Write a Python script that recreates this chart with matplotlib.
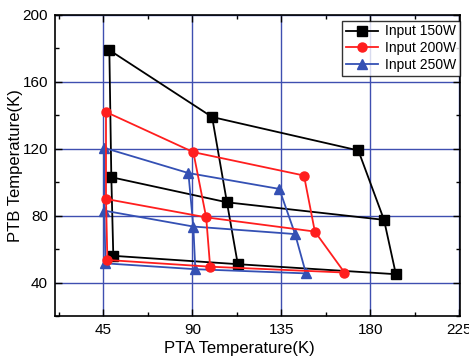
import numpy as np
import matplotlib.pyplot as plt
from matplotlib.lines import Line2D
from matplotlib.ticker import MultipleLocator

plt.rcParams['font.family'] = ['Liberation Sans', 'DejaVu Sans']

# 3x3 grids of operating points, rows = PTB setting, cols = PTA setting
x_150 = [[48, 100, 174], [49, 107.5, 187], [50, 113, 193]]
y_150 = [[179, 139, 119], [103, 88, 77.5], [56, 51, 45]]
x_200 = [[46.3, 90.5, 146.5], [46.3, 97, 152], [47, 99, 167]]
y_200 = [[142, 118, 104], [90, 79, 70.5], [53.5, 49.5, 46]]
x_250 = [[45.5, 88, 134], [45.5, 90.5, 142], [46, 91.5, 147.5]]
y_250 = [[120.5, 105.5, 96], [83, 73.5, 69], [51.5, 48, 45.5]]

labels = ['Input 150W', 'Input 200W', 'Input 250W']
colors = ['black', '#ff1e1e', '#3450b4']
markers = ['s', 'o', '^']

fig = plt.figure(figsize=(4.69, 3.62), dpi=100)
ax = fig.add_axes([0.1173, 0.127, 0.8637, 0.8316])

ax.grid(True, which='major', color='#3f4fb0', linewidth=1.0)
ax.set_axisbelow(True)

series = [(x_150, y_150), (x_250, y_250), (x_200, y_200)]
order = [0, 2, 1]
for (xs, ys), i in zip(series, order):
    xs = np.array(xs)
    ys = np.array(ys)
    for r in range(3):
        ax.plot(xs[r], ys[r], color=colors[i], lw=1.3, marker=markers[i],
                ms=6.5, zorder=3)
    for c in range(3):
        ax.plot(xs[:, c], ys[:, c], color=colors[i], lw=1.3, zorder=3)

ax.set_xlim(20.5, 225.5)
ax.set_ylim(20, 200)
ax.xaxis.set_minor_locator(MultipleLocator(22.5))
ax.yaxis.set_minor_locator(MultipleLocator(20))
ax.set_xticks([45, 90, 135, 180, 225])
ax.set_yticks([40, 80, 120, 160, 200])
ax.tick_params(which='both', direction='in', top=True, right=True, labelsize=11)
ax.tick_params(which='major', length=5, width=1, pad=5)
ax.tick_params(which='minor', length=3, width=1)
for s in ax.spines.values():
    s.set_linewidth(1.2)

ax.set_xlabel('PTA Temperature(K)', fontsize=12)
ax.set_ylabel('PTB Temperature(K)', fontsize=12)
ax.xaxis.set_label_coords(0.454, -0.083)
ax.yaxis.set_label_coords(-0.079, 0.5)

handles = [Line2D([], [], color=colors[i], marker=markers[i], ms=6.5, lw=1.3)
           for i in range(3)]
leg = ax.legend(handles, labels, loc='upper right', bbox_to_anchor=(1.0, 0.98),
                fontsize=10, frameon=True, fancybox=False, borderpad=0.25,
                labelspacing=0.2, handlelength=2.35, handletextpad=0.5,
                borderaxespad=0.0)
leg.get_frame().set_edgecolor('black')
leg.get_frame().set_linewidth(1.0)

fig.savefig('out.png', dpi=100)
